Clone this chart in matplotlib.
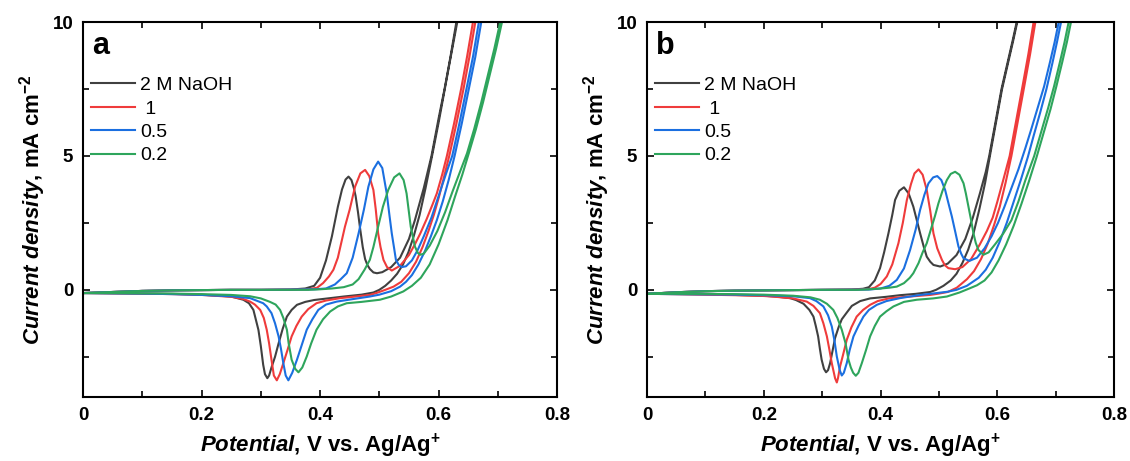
import matplotlib
matplotlib.use("Agg")
import matplotlib.pyplot as plt
from matplotlib.ticker import MultipleLocator

plt.rcParams['font.family'] = ['Liberation Sans', 'DejaVu Sans']
plt.rcParams['mathtext.fontset'] = 'custom'
plt.rcParams['mathtext.rm'] = 'Liberation Sans:bold'
plt.rcParams['mathtext.bf'] = 'Liberation Sans:bold'
plt.rcParams['mathtext.it'] = 'Liberation Sans:italic:bold'

labels = ["2 M NaOH", " 1", "0.5", "0.2"]
colors = ["#404040", "#ef3b3b", "#1b6fe0", "#2ea55c"]

# panel a -- (potential V, current density mA cm-2), forward then reverse scan
a_black_fwd = [(0.0, -0.12), (0.05, -0.08), (0.10, -0.04), (0.15, -0.02), (0.20, -0.01), (0.25, 0.0),
               (0.30, 0.0), (0.35, 0.01), (0.375, 0.05), (0.39, 0.15), (0.40, 0.45), (0.41, 1.1),
               (0.42, 2.0), (0.43, 3.1), (0.437, 3.75), (0.443, 4.12), (0.448, 4.23), (0.453, 4.1),
               (0.457, 3.8), (0.46, 3.5), (0.464, 2.9), (0.4675, 2.3), (0.472, 1.6), (0.476, 1.15),
               (0.48, 0.92), (0.484, 0.78), (0.49, 0.65), (0.496, 0.62), (0.505, 0.66),
               (0.52, 0.85), (0.535, 1.2), (0.55, 1.9), (0.56, 2.6), (0.575, 3.8), (0.588, 5.0),
               (0.60, 6.4), (0.61, 7.5), (0.62, 8.7), (0.630, 10.0), (0.632, 10.3)]
a_black_rev = [(0.633, 10.3), (0.6315, 10.0), (0.6205, 8.7), (0.6105, 7.5), (0.6005, 6.3), (0.589, 5.0),
               (0.578, 3.8), (0.568, 2.8), (0.558, 2.0), (0.549, 1.4), (0.54, 0.95), (0.53, 0.6),
               (0.52, 0.35), (0.51, 0.15), (0.50, 0.0), (0.49, -0.1), (0.47, -0.18), (0.44, -0.25),
               (0.417, -0.31), (0.39, -0.38), (0.375, -0.45), (0.361, -0.56), (0.352, -0.75),
               (0.344, -1.0), (0.337, -1.45), (0.33, -2.0), (0.324, -2.5), (0.318, -2.9), (0.314, -3.2),
               (0.311, -3.3), (0.307, -3.15), (0.304, -2.8), (0.300, -2.1), (0.296, -1.5), (0.2875, -0.75),
               (0.28, -0.5), (0.2705, -0.37), (0.25, -0.25), (0.20, -0.18), (0.15, -0.15), (0.10, -0.14),
               (0.05, -0.13), (0.0, -0.12)]

a_red_fwd = [(0.0, -0.12), (0.05, -0.08), (0.10, -0.04), (0.15, -0.02), (0.20, -0.01), (0.25, 0.0),
             (0.30, 0.0), (0.35, 0.01), (0.38, 0.02), (0.395, 0.08), (0.405, 0.25), (0.415, 0.5),
             (0.4225, 0.75), (0.43, 1.2), (0.442, 2.36), (0.45, 3.0), (0.459, 3.85), (0.468, 4.35),
             (0.476, 4.48), (0.483, 4.25), (0.490, 3.73), (0.494, 3.0), (0.498, 2.11), (0.502, 1.6),
             (0.507, 1.12), (0.513, 0.85), (0.521, 0.72), (0.535, 0.9), (0.55, 1.3), (0.56, 1.7),
             (0.569, 2.1), (0.58, 2.65), (0.59, 3.2), (0.597, 3.6), (0.606, 4.3), (0.614, 5.0),
             (0.626, 6.2), (0.638, 7.5), (0.648, 8.7), (0.658, 10.0), (0.66, 10.3)]
a_red_rev = [(0.664, 10.3), (0.662, 10.0), (0.652, 8.7), (0.642, 7.5), (0.63, 6.2), (0.618, 5.0),
             (0.609, 4.2), (0.601, 3.5), (0.592, 2.8), (0.583, 2.2), (0.573, 1.6), (0.562, 1.05),
             (0.55, 0.62), (0.537, 0.3), (0.524, 0.12), (0.51, 0.0), (0.495, -0.12), (0.484, -0.19),
             (0.46, -0.25), (0.434, -0.31), (0.41, -0.4), (0.394, -0.5), (0.38, -0.72), (0.369, -1.0),
             (0.36, -1.35), (0.352, -1.74), (0.345, -2.25), (0.338, -2.74), (0.332, -3.15), (0.327, -3.38),
             (0.322, -3.2), (0.318, -2.61), (0.314, -2.0), (0.31, -1.49), (0.305, -1.05), (0.299, -0.75),
             (0.29, -0.55), (0.282, -0.44), (0.27, -0.34), (0.25, -0.26), (0.20, -0.19), (0.15, -0.16),
             (0.10, -0.14), (0.05, -0.13), (0.0, -0.12)]

a_blue_fwd = [(0.0, -0.12), (0.05, -0.08), (0.10, -0.04), (0.15, -0.02), (0.20, -0.01), (0.25, 0.0),
              (0.30, 0.0), (0.35, 0.01), (0.39, 0.02), (0.41, 0.05), (0.425, 0.2), (0.435, 0.4),
              (0.445, 0.62), (0.455, 1.2), (0.465, 2.11), (0.474, 3.0), (0.4815, 3.85), (0.49, 4.5),
              (0.498, 4.79), (0.505, 4.55), (0.5125, 3.6), (0.517, 2.8), (0.521, 2.11), (0.525, 1.55),
              (0.528, 1.12), (0.533, 0.92), (0.538, 0.85), (0.545, 0.88), (0.555, 1.1), (0.565, 1.5),
              (0.575, 2.0), (0.588, 2.7), (0.60, 3.5), (0.612, 4.3), (0.623, 5.0), (0.635, 6.2),
              (0.647, 7.5), (0.658, 8.7), (0.668, 10.0), (0.67, 10.3)]
a_blue_rev = [(0.674, 10.3), (0.672, 10.0), (0.662, 8.7), (0.651, 7.5), (0.639, 6.2), (0.627, 5.0),
              (0.617, 4.1), (0.607, 3.3), (0.597, 2.6), (0.587, 2.0), (0.577, 1.45), (0.566, 0.95),
              (0.555, 0.55), (0.545, 0.3), (0.535, 0.12), (0.52, -0.05), (0.50, -0.18), (0.484, -0.25),
              (0.46, -0.33), (0.428, -0.44), (0.41, -0.55), (0.397, -0.75), (0.387, -1.1), (0.3775, -1.49),
              (0.37, -2.0), (0.361, -2.61), (0.353, -3.1), (0.3465, -3.38), (0.342, -3.2), (0.338, -2.74),
              (0.334, -2.2), (0.33, -1.74), (0.324, -1.25), (0.318, -0.87), (0.31, -0.62), (0.304, -0.5),
              (0.282, -0.31), (0.25, -0.24), (0.20, -0.19), (0.15, -0.16), (0.10, -0.14), (0.05, -0.13),
              (0.0, -0.12)]

a_green_fwd = [(0.0, -0.12), (0.05, -0.08), (0.10, -0.04), (0.15, -0.02), (0.20, -0.01), (0.25, 0.0),
               (0.30, 0.0), (0.38, 0.0), (0.40, 0.02), (0.42, 0.05), (0.44, 0.1), (0.455, 0.2),
               (0.465, 0.4), (0.475, 0.75), (0.484, 1.12), (0.49, 1.6), (0.498, 2.36), (0.506, 3.1),
               (0.515, 3.73), (0.525, 4.2), (0.534, 4.35), (0.541, 4.1), (0.546, 3.6), (0.553, 2.36),
               (0.56, 1.62), (0.565, 1.38), (0.569, 1.31), (0.575, 1.35), (0.585, 1.65), (0.598, 2.2),
               (0.611, 2.9), (0.624, 3.7), (0.636, 4.4), (0.648, 5.1), (0.66, 6.0), (0.672, 7.0),
               (0.683, 8.0), (0.694, 9.0), (0.704, 10.0), (0.707, 10.3)]
a_green_rev = [(0.71, 10.3), (0.707, 10.0), (0.697, 9.0), (0.686, 8.0), (0.675, 7.0), (0.663, 6.0),
               (0.651, 5.1), (0.64, 4.3), (0.628, 3.5), (0.615, 2.6), (0.60, 1.7), (0.585, 0.95),
               (0.57, 0.45), (0.555, 0.15), (0.5405, -0.06), (0.52, -0.25), (0.501, -0.37), (0.47, -0.45),
               (0.445, -0.5), (0.43, -0.62), (0.417, -0.81), (0.405, -1.1), (0.394, -1.49), (0.385, -2.0),
               (0.3775, -2.49), (0.37, -2.9), (0.3635, -3.08), (0.358, -2.95), (0.352, -2.61), (0.347, -2.0),
               (0.344, -1.49), (0.338, -1.05), (0.3325, -0.75), (0.325, -0.55), (0.3155, -0.45), (0.30, -0.32),
               (0.282, -0.24), (0.25, -0.19), (0.20, -0.16), (0.15, -0.14), (0.10, -0.13), (0.05, -0.12),
               (0.0, -0.12)]

# panel b
b_black_fwd = [(0.0, -0.15), (0.05, -0.09), (0.10, -0.05), (0.15, -0.03), (0.20, -0.02), (0.25, -0.01),
               (0.30, 0.0), (0.35, 0.01), (0.37, 0.04), (0.38, 0.1), (0.39, 0.35), (0.399, 0.81),
               (0.406, 1.4), (0.4134, 2.11), (0.42, 2.8), (0.4248, 3.36), (0.432, 3.7), (0.44, 3.83),
               (0.448, 3.6), (0.456, 3.11), (0.462, 2.6), (0.4677, 2.11), (0.474, 1.6), (0.479, 1.24),
               (0.485, 1.05), (0.4905, 0.93), (0.502, 0.87), (0.515, 0.98), (0.53, 1.3), (0.545, 1.9),
               (0.558, 2.7), (0.57, 3.6), (0.58, 4.4), (0.586, 5.0), (0.597, 6.3), (0.607, 7.5),
               (0.617, 8.45), (0.626, 9.3), (0.633, 10.0), (0.636, 10.4)]
b_black_rev = [(0.637, 10.4), (0.634, 10.0), (0.627, 9.3), (0.618, 8.45), (0.608, 7.5), (0.598, 6.3),
               (0.588, 5.1), (0.579, 4.0), (0.569, 3.0), (0.559, 2.1), (0.55, 1.5), (0.54, 1.0), (0.53, 0.6),
               (0.52, 0.35), (0.5076, 0.15), (0.495, 0.0), (0.485, -0.08), (0.46, -0.15), (0.433, -0.2),
               (0.41, -0.26), (0.382, -0.32), (0.365, -0.42), (0.3507, -0.6), (0.342, -0.85), (0.3335, -1.1),
               (0.328, -1.4), (0.322, -1.8), (0.3175, -2.3), (0.3135, -2.74), (0.31, -3.0), (0.3066, -3.08),
               (0.303, -2.95), (0.299, -2.61), (0.296, -2.2), (0.293, -1.74), (0.289, -1.35), (0.285, -1.0),
               (0.278, -0.75), (0.268, -0.52), (0.255, -0.38), (0.245, -0.31), (0.22, -0.25), (0.2, -0.22),
               (0.15, -0.19), (0.10, -0.17), (0.05, -0.16), (0.0, -0.15)]

b_red_fwd = [(0.0, -0.15), (0.05, -0.09), (0.10, -0.05), (0.15, -0.03), (0.20, -0.02), (0.25, -0.01),
             (0.30, 0.0), (0.35, 0.01), (0.38, 0.03), (0.39, 0.08), (0.40, 0.22), (0.4106, 0.5),
             (0.42, 0.95), (0.4305, 1.74), (0.438, 2.5), (0.445, 3.36), (0.452, 3.95), (0.458, 4.35),
             (0.465, 4.5), (0.472, 4.3), (0.479, 3.73), (0.485, 2.95), (0.4905, 2.11), (0.497, 1.55),
             (0.505, 1.12), (0.51, 0.92), (0.516, 0.81), (0.5276, 0.77), (0.54, 0.85), (0.555, 1.15),
             (0.57, 1.7), (0.582, 2.2), (0.592, 2.7), (0.60, 3.3), (0.61, 4.1), (0.621, 5.0),
             (0.632, 6.3), (0.643, 7.6), (0.653, 8.8), (0.662, 10.0), (0.665, 10.4)]
b_red_rev = [(0.668, 10.4), (0.665, 10.0), (0.656, 8.8), (0.646, 7.6), (0.635, 6.3), (0.624, 5.0),
             (0.614, 4.0), (0.604, 3.1), (0.594, 2.4), (0.583, 1.7), (0.572, 1.15), (0.56, 0.7),
             (0.548, 0.4), (0.5305, 0.08), (0.515, -0.08), (0.5, -0.14), (0.485, -0.19), (0.45, -0.25),
             (0.416, -0.31), (0.395, -0.42), (0.382, -0.56), (0.37, -0.75), (0.359, -1.0), (0.35, -1.4),
             (0.342, -1.87), (0.336, -2.4), (0.3306, -2.86), (0.327, -3.3), (0.325, -3.46), (0.322, -3.3),
             (0.3164, -2.74), (0.312, -2.2), (0.308, -1.74), (0.302, -1.25), (0.296, -0.87), (0.285, -0.6),
             (0.2736, -0.44), (0.25, -0.32), (0.22, -0.26), (0.2, -0.23), (0.15, -0.2), (0.1, -0.18),
             (0.05, -0.16), (0.0, -0.15)]

b_blue_fwd = [(0.0, -0.15), (0.05, -0.09), (0.10, -0.05), (0.15, -0.03), (0.20, -0.02), (0.25, -0.01),
              (0.30, 0.0), (0.38, 0.01), (0.40, 0.05), (0.415, 0.15), (0.4277, 0.37), (0.44, 0.8),
              (0.4505, 1.49), (0.46, 2.25), (0.4677, 2.99), (0.475, 3.55), (0.482, 3.98), (0.49, 4.2),
              (0.497, 4.25), (0.504, 4.1), (0.5105, 3.73), (0.516, 3.25), (0.522, 2.74), (0.528, 2.15),
              (0.5333, 1.62), (0.538, 1.35), (0.542, 1.18), (0.552, 1.08), (0.565, 1.2), (0.578, 1.55),
              (0.59, 2.0), (0.601, 2.5), (0.612, 3.1), (0.624, 3.8), (0.636, 4.5), (0.648, 5.3),
              (0.658, 6.0), (0.669, 6.8), (0.68, 7.6), (0.69, 8.5), (0.698, 9.25), (0.705, 10.0),
              (0.708, 10.4)]
b_blue_rev = [(0.712, 10.4), (0.709, 10.0), (0.702, 9.25), (0.694, 8.45), (0.684, 7.5), (0.673, 6.6),
              (0.662, 5.75), (0.652, 4.95), (0.64, 4.1), (0.628, 3.3), (0.616, 2.5), (0.604, 1.8),
              (0.592, 1.2), (0.58, 0.75), (0.568, 0.45), (0.5477, 0.15), (0.53, 0.0), (0.515, -0.07),
              (0.4963, -0.12), (0.465, -0.2), (0.433, -0.31), (0.41, -0.42), (0.3935, -0.56), (0.38, -0.75),
              (0.3706, -1.0), (0.362, -1.35), (0.3535, -1.74), (0.347, -2.25), (0.342, -2.74), (0.337, -3.1),
              (0.3335, -3.2), (0.33, -3.0), (0.325, -2.49), (0.321, -1.9), (0.3164, -1.37), (0.31, -0.95),
              (0.302, -0.62), (0.29, -0.42), (0.279, -0.31), (0.25, -0.24), (0.2, -0.2), (0.15, -0.18),
              (0.1, -0.17), (0.05, -0.16), (0.0, -0.15)]

b_green_fwd = [(0.0, -0.15), (0.05, -0.09), (0.10, -0.05), (0.15, -0.03), (0.20, -0.02), (0.25, -0.01),
               (0.30, 0.0), (0.36, 0.0), (0.38, 0.02), (0.40, 0.05), (0.415, 0.08), (0.4277, 0.12),
               (0.44, 0.25), (0.45, 0.45), (0.456, 0.62), (0.465, 1.0), (0.472, 1.4), (0.479, 1.74),
               (0.486, 2.25), (0.493, 2.75), (0.499, 3.23), (0.506, 3.7), (0.5134, 4.1), (0.52, 4.33),
               (0.5276, 4.41), (0.535, 4.3), (0.542, 3.98), (0.546, 3.6), (0.5504, 3.11), (0.555, 2.6),
               (0.559, 2.11), (0.563, 1.75), (0.5675, 1.49), (0.576, 1.31), (0.585, 1.4), (0.596, 1.7),
               (0.61, 2.1), (0.624, 2.6), (0.636, 3.3), (0.648, 4.1), (0.663, 5.0), (0.675, 5.9),
               (0.687, 6.8), (0.697, 7.6), (0.707, 8.5), (0.715, 9.25), (0.722, 10.0), (0.725, 10.4)]
b_green_rev = [(0.729, 10.4), (0.726, 10.0), (0.719, 9.25), (0.711, 8.5), (0.701, 7.6), (0.691, 6.75),
               (0.679, 5.85), (0.667, 4.95), (0.654, 4.05), (0.641, 3.2), (0.628, 2.4), (0.615, 1.7),
               (0.602, 1.1), (0.59, 0.65), (0.578, 0.35), (0.565, 0.17), (0.553, 0.06), (0.535, -0.1),
               (0.5134, -0.25), (0.49, -0.32), (0.462, -0.37), (0.44, -0.45), (0.422, -0.62), (0.41, -0.8),
               (0.399, -1.0), (0.39, -1.35), (0.382, -1.74), (0.375, -2.25), (0.3678, -2.74), (0.362, -3.1),
               (0.3575, -3.21), (0.353, -3.1), (0.349, -2.9), (0.345, -2.61), (0.34, -2.0), (0.3335, -1.49),
               (0.326, -1.05), (0.319, -0.75), (0.308, -0.52), (0.296, -0.37), (0.28, -0.28), (0.25, -0.22),
               (0.2, -0.18), (0.15, -0.16), (0.1, -0.15), (0.05, -0.15), (0.0, -0.15)]

panels = {
    "a": [(a_black_fwd, a_black_rev), (a_red_fwd, a_red_rev), (a_blue_fwd, a_blue_rev), (a_green_fwd, a_green_rev)],
    "b": [(b_black_fwd, b_black_rev), (b_red_fwd, b_red_rev), (b_blue_fwd, b_blue_rev), (b_green_fwd, b_green_rev)],
}

fig = plt.figure(figsize=(11.3, 4.61), dpi=100)
ax_a = fig.add_axes([0.0735, 0.139, 0.4195, 0.813])
ax_b = fig.add_axes([0.5726, 0.139, 0.4134, 0.813])

for ax, name in [(ax_a, "a"), (ax_b, "b")]:
    for (fwd, rev), col, lab in zip(panels[name], colors, labels):
        pts = fwd + rev
        ax.plot([p[0] for p in pts], [p[1] for p in pts], color=col, lw=1.5, label=lab)

    ax.set_xlim(0, 0.8)
    ax.set_ylim(-4, 10)
    ax.xaxis.set_major_locator(MultipleLocator(0.2))
    ax.xaxis.set_minor_locator(MultipleLocator(0.1))
    ax.yaxis.set_major_locator(MultipleLocator(5))
    ax.yaxis.set_minor_locator(MultipleLocator(2.5))
    ax.tick_params(which="both", direction="in", top=True, right=True, width=1.2)
    ax.tick_params(which="major", length=5, labelsize=13.5, pad=7)
    ax.tick_params(which="minor", length=4)
    ax.set_xticks([0, 0.2, 0.4, 0.6, 0.8])
    ax.set_xticklabels(["0", "0.2", "0.4", "0.6", "0.8"])
    for t in ax.get_xticklabels() + ax.get_yticklabels():
        t.set_fontweight("bold")
    for s in ax.spines.values():
        s.set_linewidth(1.5)

    ax.set_xlabel(r"$\mathit{Potential}$, V vs. Ag/Ag$^{+}$", fontsize=16, fontweight="bold", labelpad=6)
    ax.set_ylabel(r"$\mathit{Current\ density}$, mA cm$^{-2}$", fontsize=16, fontweight="bold", labelpad=3)
    ax.text(0.02, 0.935, name, transform=ax.transAxes, fontsize=22, fontweight="bold", va="center")
    ax.legend(loc="upper left", bbox_to_anchor=(0.016, 0.855), frameon=False, fontsize=14,
              handlelength=2.3, handletextpad=0.25, labelspacing=0.3, borderpad=0, borderaxespad=0)

fig.savefig("out.png", dpi=100)
